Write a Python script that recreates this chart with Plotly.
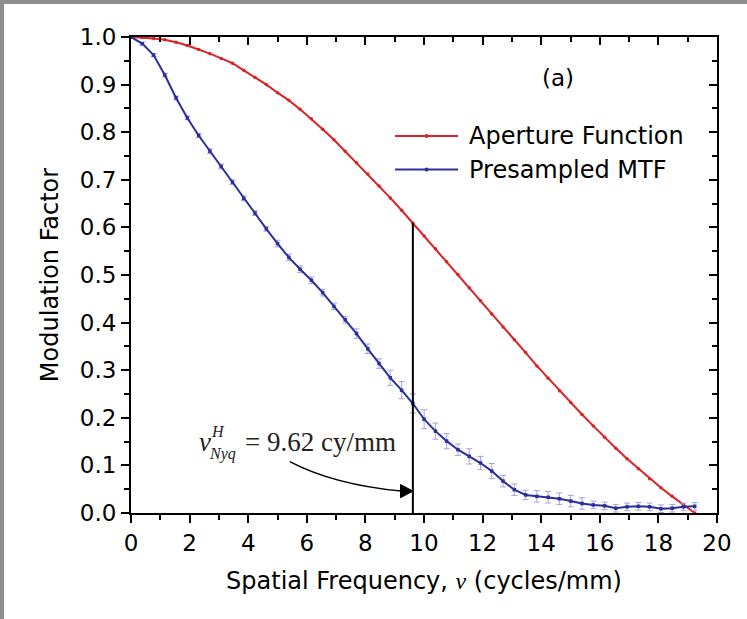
import numpy as np
import plotly.graph_objects as go

# Spatial frequency samples (cycles/mm)
freq = [0.000, 0.385, 0.770, 1.154, 1.539, 1.924, 2.309, 2.694, 3.078, 3.463,
        3.848, 4.233, 4.618, 5.002, 5.387, 5.772, 6.157, 6.542, 6.926, 7.311,
        7.696, 8.081, 8.466, 8.850, 9.235, 9.620, 10.005, 10.390, 10.774, 11.159,
        11.544, 11.929, 12.314, 12.698, 13.083, 13.468, 13.853, 14.238, 14.622, 15.007,
        15.392, 15.777, 16.162, 16.546, 16.931, 17.316, 17.701, 18.086, 18.470, 18.855,
        19.240]

# Aperture function
aperture = [1.000, 0.999, 0.997, 0.994, 0.989, 0.982, 0.974, 0.965, 0.955, 0.945,
            0.930, 0.915, 0.900, 0.883, 0.867, 0.848, 0.828, 0.806, 0.784, 0.760,
            0.736, 0.712, 0.687, 0.662, 0.636, 0.609, 0.582, 0.555, 0.528, 0.501,
            0.473, 0.446, 0.418, 0.391, 0.364, 0.337, 0.309, 0.283, 0.257, 0.232,
            0.207, 0.183, 0.159, 0.136, 0.114, 0.093, 0.072, 0.053, 0.035, 0.018,
            0.000]

# Presampled MTF and its uncertainty
mtf = [1.000, 0.986, 0.962, 0.920, 0.872, 0.830, 0.793, 0.760, 0.728, 0.695,
       0.661, 0.630, 0.597, 0.566, 0.537, 0.512, 0.489, 0.463, 0.434, 0.406,
       0.377, 0.345, 0.314, 0.284, 0.258, 0.230, 0.197, 0.172, 0.151, 0.133,
       0.119, 0.105, 0.088, 0.067, 0.049, 0.038, 0.035, 0.033, 0.030, 0.025,
       0.020, 0.017, 0.015, 0.010, 0.013, 0.014, 0.013, 0.009, 0.010, 0.013,
       0.014]
mtf_err = [0.002, 0.003, 0.003, 0.004, 0.004, 0.004, 0.004, 0.005, 0.005, 0.005,
           0.005, 0.005, 0.005, 0.007, 0.007, 0.007, 0.007, 0.007, 0.007, 0.007,
           0.010, 0.010, 0.010, 0.016, 0.018, 0.020, 0.020, 0.017, 0.016, 0.012,
           0.016, 0.014, 0.016, 0.012, 0.012, 0.010, 0.012, 0.012, 0.012, 0.012,
           0.012, 0.008, 0.008, 0.008, 0.008, 0.008, 0.008, 0.008, 0.008, 0.008,
           0.008]

nyquist = 9.62
x_ticks = [0, 2, 4, 6, 8, 10, 12, 14, 16, 18, 20]
y_ticks = [0.0, 0.1, 0.2, 0.3, 0.4, 0.5, 0.6, 0.7, 0.8, 0.9, 1.0]

RED = "#dc2226"
BLUE = "#2b2f9a"
ERR = "#a3a3e0"
SANS = "DejaVu Sans"
SERIF = "Liberation Serif"

fig = go.Figure()

fig.add_trace(go.Scatter(
    x=freq, y=aperture, mode="lines+markers", name="Aperture Function",
    line=dict(color=RED, width=2), marker=dict(color=RED, size=3.5),
    showlegend=False))

fig.add_trace(go.Scatter(
    x=freq, y=mtf, mode="lines+markers", name="Presampled MTF",
    line=dict(color=BLUE, width=2), marker=dict(color=BLUE, size=3.5, symbol="square"),
    error_y=dict(type="data", array=mtf_err, color=ERR, thickness=1, width=3),
    showlegend=False))

# Nyquist marker line up to the aperture curve
ap_nyq = float(np.interp(nyquist, freq, aperture))
fig.add_trace(go.Scatter(
    x=[nyquist, nyquist], y=[0, ap_nyq], mode="lines",
    line=dict(color="black", width=2), showlegend=False, hoverinfo="skip"))

# helper trace so the top/right mirror axes are drawn
fig.add_trace(go.Scatter(x=[None], y=[None], xaxis="x2", yaxis="y2",
                         showlegend=False, hoverinfo="skip"))

tickfont = dict(family=SANS, size=23, color="black")

fig.update_layout(
    width=747, height=619,
    margin=dict(l=131, r=30, t=37, b=106),
    paper_bgcolor="white", plot_bgcolor="white",
    xaxis=dict(range=[0, 20], tickvals=x_ticks, ticktext=[str(v) for v in x_ticks],
               ticks="outside", ticklen=8, tickwidth=1.5, tickcolor="black",
               minor=dict(dtick=1, ticks="outside", ticklen=5, tickwidth=1.5, tickcolor="black"),
               showline=True, linecolor="black", linewidth=2, showgrid=False, zeroline=False,
               tickfont=tickfont,
               title=dict(text="Spatial Frequency, <span style=\"font-family:'Liberation Serif'\"><i>v</i></span> (cycles/mm)",
                          font=dict(family=SANS, size=24, color="black"), standoff=18)),
    yaxis=dict(range=[0, 1.0], tickvals=y_ticks, ticktext=[f"{v:.1f}" for v in y_ticks],
               ticks="outside", ticklen=8, tickwidth=1.5, tickcolor="black",
               minor=dict(dtick=0.05, ticks="outside", ticklen=5, tickwidth=1.5, tickcolor="black"),
               showline=True, linecolor="black", linewidth=2, showgrid=False, zeroline=False,
               tickfont=tickfont,
               title=dict(text="Modulation Factor", font=dict(family=SANS, size=24, color="black"),
                          standoff=14)),
    xaxis2=dict(range=[0, 20], overlaying="x", side="top", tickvals=x_ticks,
                showticklabels=False, ticks="inside", ticklen=8, tickwidth=1.5, tickcolor="black",
                minor=dict(dtick=1, ticks="inside", ticklen=5, tickwidth=1.5, tickcolor="black"),
                showline=True, linecolor="black", linewidth=2, showgrid=False, zeroline=False),
    yaxis2=dict(range=[0, 1.0], overlaying="y", side="right", tickvals=y_ticks,
                showticklabels=False, ticks="inside", ticklen=8, tickwidth=1.5, tickcolor="black",
                minor=dict(dtick=0.05, ticks="inside", ticklen=5, tickwidth=1.5, tickcolor="black"),
                showline=True, linecolor="black", linewidth=2, showgrid=False, zeroline=False),
)

shapes = []
# curved arrow pointing at the Nyquist line
shapes.append(dict(type="path", xref="x", yref="y",
                   path="M 5.42,0.108 Q 6.9,0.060 9.22,0.046",
                   line=dict(color="black", width=1.5)))
shapes.append(dict(type="path", xref="x", yref="y",
                   path=f"M {nyquist},0.046 L 9.20,0.060 L 9.20,0.032 Z",
                   fillcolor="black", line=dict(color="black", width=1)))

# legend samples
for yp, col in [(0.792, RED), (0.7216, BLUE)]:
    shapes.append(dict(type="line", xref="paper", yref="paper",
                       x0=0.4505, x1=0.558, y0=yp, y1=yp, line=dict(color=col, width=2)))
    shapes.append(dict(type="circle", xref="paper", yref="paper",
                       x0=0.5010, x1=0.5078, y0=yp - 0.0042, y1=yp + 0.0042,
                       fillcolor=col, line=dict(color=col, width=0)))

# outer grey frame (top and left edges)
shapes.append(dict(type="rect", xref="paper", yref="paper",
                   x0=-0.2235, x1=1.06, y0=1.0693, y1=1.09,
                   fillcolor="#8e8e8e", line=dict(width=0), layer="above"))
shapes.append(dict(type="rect", xref="paper", yref="paper",
                   x0=-0.24, x1=-0.2167, y0=-0.24, y1=1.09,
                   fillcolor="#8e8e8e", line=dict(width=0), layer="above"))
fig.update_layout(shapes=shapes)

ann = []
ann.append(dict(xref="paper", yref="paper", x=0.5734, y=0.792, xanchor="left", yanchor="middle",
                text="Aperture Function", showarrow=False,
                font=dict(family=SANS, size=24, color="black")))
ann.append(dict(xref="paper", yref="paper", x=0.5734, y=0.7216, xanchor="left", yanchor="middle",
                text="Presampled MTF", showarrow=False,
                font=dict(family=SANS, size=24, color="black")))
ann.append(dict(xref="paper", yref="paper", x=0.7287, y=0.9139, xanchor="center", yanchor="middle",
                text="(a)", showarrow=False, font=dict(family=SANS, size=23, color="black")))
# Nyquist frequency label
ann.append(dict(xref="x", yref="y", x=2.80, y=0.150, xanchor="right", yanchor="middle",
                text="<i>v</i>", showarrow=False, font=dict(family=SERIF, size=27, color="#222")))
ann.append(dict(xref="x", yref="y", x=2.66, y=0.172, xanchor="left", yanchor="middle",
                text="<i>H</i>", showarrow=False, font=dict(family=SERIF, size=16, color="#222")))
ann.append(dict(xref="x", yref="y", x=2.58, y=0.124, xanchor="left", yanchor="middle",
                text="<i>Nyq</i>", showarrow=False, font=dict(family=SERIF, size=16, color="#222")))
ann.append(dict(xref="x", yref="y", x=3.82, y=0.150, xanchor="left", yanchor="middle",
                text="= 9.62 cy/mm", showarrow=False, font=dict(family=SERIF, size=27, color="#222")))
fig.update_layout(annotations=ann)

fig.write_html("out.html")
